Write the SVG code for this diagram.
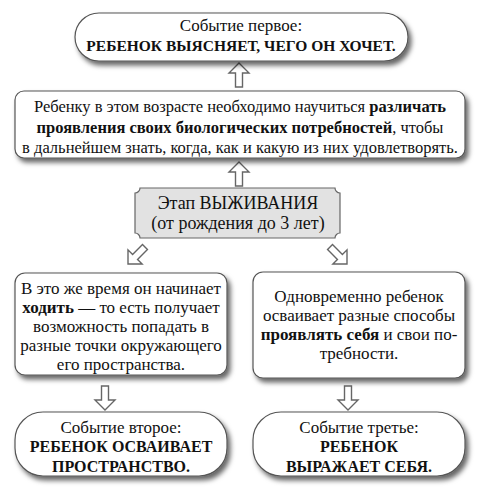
<svg xmlns="http://www.w3.org/2000/svg" width="488" height="496" viewBox="0 0 488 496">
<defs>
<filter id="sh" x="-10%" y="-20%" width="125%" height="150%">
<feDropShadow dx="3" dy="4" stdDeviation="2.5" flood-color="#000" flood-opacity="0.6"/>
</filter>
<path id="arr" d="M0,0 L10,10 L3.5,10 L3.5,24 L-3.5,24 L-3.5,10 L-10,10 Z"/>
</defs>
<style>
.box{fill:#fff;stroke:#555;stroke-width:1.2;filter:url(#sh)}
.stage{fill:#e2e2e2;stroke:#666;stroke-width:1.2}
.arrow{fill:#fff;stroke:#666;stroke-width:1.4}
text{font-family:"Liberation Serif",serif;font-size:17px;fill:#111;text-anchor:middle}
.s{font-size:16.5px}
.cap{font-size:16px;font-weight:bold}
.capt{font-size:15.5px;font-weight:bold}
.st{font-size:18px}
.b{font-weight:bold}
</style>
<g id="connectors">
<use href="#arr" class="arrow" transform="translate(239,63)"/>
<use href="#arr" class="arrow" transform="translate(239,162)"/>
<use href="#arr" class="arrow" transform="translate(128,264) rotate(-135)"/>
<use href="#arr" class="arrow" transform="translate(347,264) rotate(135)"/>
<use href="#arr" class="arrow" transform="translate(105,410) rotate(180)"/>
<use href="#arr" class="arrow" transform="translate(348,410) rotate(180)"/>
</g>
<g id="event1">
<rect class="box" x="75" y="13" width="333" height="48" rx="24"/>
<text x="241" y="31">Событие первое:</text>
<text x="241" y="51" class="capt">РЕБЕНОК ВЫЯСНЯЕТ, ЧЕГО ОН ХОЧЕТ.</text>
</g>
<g id="need">
<rect class="box" x="15" y="91" width="450" height="67" rx="9"/>
<text x="240" y="112" class="s">Ребенку в этом возрасте необходимо научиться <tspan class="b">различать</tspan></text>
<text x="240" y="133" class="s"><tspan class="b">проявления своих биологических потребностей</tspan>, чтобы</text>
<text x="240" y="153" class="s">в дальнейшем знать, когда, как и какую из них удовлетворять.</text>
</g>
<g id="stage">
<path class="stage" d="M140,188 H335 A5,5 0 0 0 340,193 V233 A5,5 0 0 0 335,238 H140 A5,5 0 0 0 135,233 V193 A5,5 0 0 0 140,188 Z"/>
<text x="238" y="209" class="st">Этап ВЫЖИВАНИЯ</text>
<text x="238" y="229" class="st">(от рождения до 3 лет)</text>
</g>
<g id="walk">
<rect class="box" x="15" y="273" width="212" height="102" rx="10"/>
<text x="121" y="294">В это же время он начинает</text>
<text x="121" y="313"><tspan class="b">ходить</tspan> — то есть получает</text>
<text x="121" y="332">возможность попадать в</text>
<text x="121" y="351">разные точки окружающего</text>
<text x="121" y="370">его пространства.</text>
</g>
<g id="express">
<rect class="box" x="253" y="272" width="212" height="106" rx="10"/>
<text x="359" y="302">Одновременно ребенок</text>
<text x="359" y="321">осваивает разные способы</text>
<text x="359" y="340"><tspan class="b">проявлять себя</tspan> и свои по-</text>
<text x="359" y="359">требности.</text>
</g>
<g id="event2">
<rect class="box" x="15" y="412" width="212" height="64" rx="28"/>
<text x="121" y="433">Событие второе:</text>
<text x="121" y="452" class="cap">РЕБЕНОК ОСВАИВАЕТ</text>
<text x="121" y="472" class="cap">ПРОСТРАНСТВО.</text>
</g>
<g id="event3">
<rect class="box" x="253" y="412" width="212" height="64" rx="28"/>
<text x="359" y="433">Событие третье:</text>
<text x="359" y="452" class="cap">РЕБЕНОК</text>
<text x="359" y="472" class="cap">ВЫРАЖАЕТ СЕБЯ.</text>
</g>
</svg>
